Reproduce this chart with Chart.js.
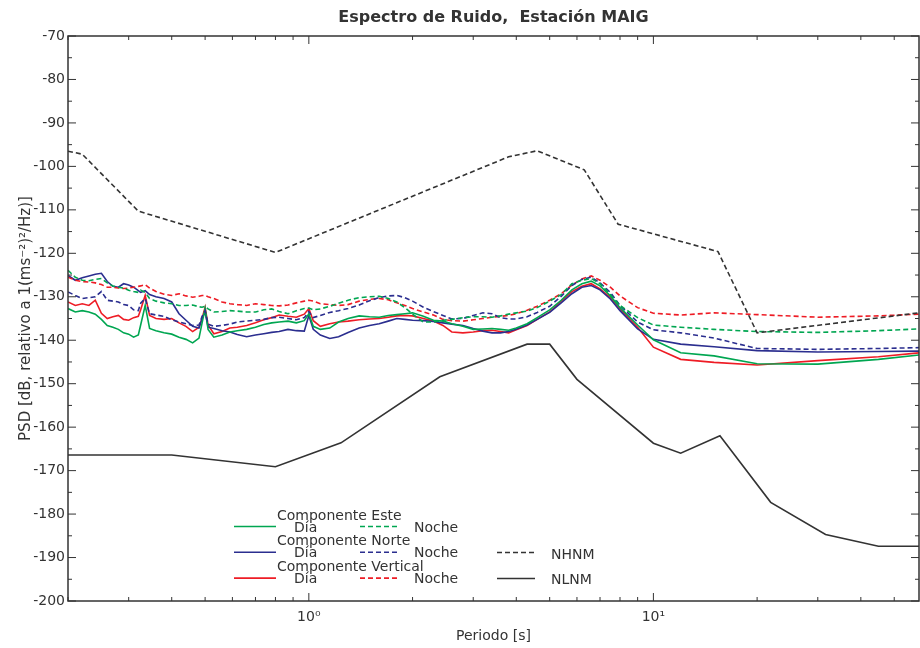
<!DOCTYPE html>
<html>
<head>
<meta charset="utf-8">
<title>Espectro de Ruido, Estación MAIG</title>
<script src="https://cdn.jsdelivr.net/npm/chart.js@4.4.1/dist/chart.umd.min.js"></script>
<style>
    html, body { margin: 0; padding: 0; background: #fff; }
    canvas { display: block; }
</style>
</head>
<body>
<canvas id="psdChart" width="920" height="648"></canvas>
<script>
// periodos [s] comunes a las 6 curvas de la estación
const periodos = [
    0.20, 0.21, 0.22, 0.23, 0.24, 0.25, 0.26, 0.27, 0.28, 0.29,
    0.30, 0.31, 0.32, 0.325, 0.335, 0.345, 0.36, 0.38, 0.40, 0.42,
    0.44, 0.46, 0.48, 0.49, 0.50, 0.51, 0.53, 0.56, 0.59, 0.62,
    0.66, 0.70, 0.74, 0.78, 0.82, 0.87, 0.92, 0.97, 1.00, 1.03,
    1.08, 1.15, 1.22, 1.30, 1.40, 1.50, 1.60, 1.70, 1.80, 1.90,
    2.0, 2.15, 2.3, 2.45, 2.6, 2.8, 3.0, 3.2, 3.4, 3.6,
    3.8, 4.0, 4.3, 4.6, 5.0, 5.4, 5.8, 6.2, 6.6, 7.0,
    7.5, 8.0, 9.0, 10, 12, 15, 20, 30, 45, 59
];

// PSD [dB] por componente
const esteDia = [
    -132.7, -133.5, -133.2, -133.5, -134.0, -135.2, -136.6, -137.0, -137.5, -138.3,
    -138.6, -139.3, -138.8, -136.5, -132.0, -137.3, -137.8, -138.3, -138.6, -139.3,
    -139.8, -140.6, -139.5, -136.0, -132.7, -137.5, -139.3, -138.8, -138.1, -137.8,
    -137.5, -137.0, -136.4, -136.0, -135.8, -135.6, -136.0, -135.5, -133.9, -136.8,
    -137.5, -137.2, -135.8, -135.0, -134.4, -134.6, -134.7, -134.3, -134.1, -133.9,
    -133.7, -134.5, -135.4, -135.6, -136.2, -136.8, -137.5, -137.4, -137.3, -137.5,
    -137.7, -137.2, -136.2, -134.8, -133.0, -130.8, -128.4, -127.0, -126.4, -127.5,
    -129.8, -132.5, -136.5, -139.9, -142.9, -143.6, -145.4, -145.5, -144.4, -143.4
];
const esteNoche = [
    -123.9, -125.5, -126.2, -126.3, -126.0, -125.8, -126.8, -127.5, -127.8, -128.0,
    -128.5, -128.8, -129.0, -128.5, -129.0, -130.4, -131.0, -131.4, -131.6, -132.0,
    -132.0, -131.9, -132.3, -132.4, -132.2, -132.8, -133.5, -133.4, -133.2, -133.3,
    -133.5, -133.5, -133.0, -132.8, -133.4, -133.9, -133.2, -132.7, -132.6, -133.0,
    -132.8, -132.2, -131.5, -130.8, -130.2, -130.0, -129.9, -130.4, -131.2, -132.5,
    -134.0, -135.8, -135.8, -135.4, -135.2, -134.8, -134.6, -134.6, -134.7, -134.4,
    -134.0, -133.7, -133.3, -132.5, -131.0, -129.5, -127.0, -126.2, -125.8, -127.0,
    -129.5, -132.0, -134.8, -136.5, -137.0, -137.5, -138.0, -138.2, -137.8, -137.4
];
const norteDia = [
    -125.1, -126.2, -125.6, -125.2, -124.8, -124.6, -126.5, -127.6, -127.8, -127.0,
    -127.3, -127.8, -128.6, -129.0, -128.6, -129.5, -130.0, -130.4, -131.2, -133.9,
    -135.4, -136.8, -137.2, -135.0, -133.5, -137.0, -137.3, -137.8, -138.1, -138.7,
    -139.2, -138.8, -138.5, -138.2, -138.0, -137.5, -137.8, -137.9, -134.3, -137.5,
    -138.8, -139.6, -139.2, -138.2, -137.2, -136.6, -136.2, -135.6, -135.0, -135.2,
    -135.4, -135.5, -135.7, -136.0, -136.3, -136.6, -137.3, -137.9, -138.3, -138.3,
    -138.0, -137.5, -136.5, -135.2, -133.6, -131.4, -129.3, -127.8, -127.4, -128.4,
    -130.5, -133.2, -137.4, -139.8, -140.9, -141.5, -142.4, -142.7, -142.6, -142.5
];
const norteNoche = [
    -128.9, -129.7, -130.4, -130.2, -130.0, -128.8, -130.8, -131.0, -131.2, -131.8,
    -132.0, -133.0, -133.2, -131.5, -130.4, -133.9, -134.2, -134.5, -135.3, -135.8,
    -136.2, -136.6, -136.5, -134.5, -133.2, -136.3, -136.8, -136.6, -136.3, -135.8,
    -135.6, -135.4, -135.2, -134.8, -134.7, -135.0, -135.3, -134.8, -133.4, -134.8,
    -134.3, -133.6, -133.2, -132.7, -131.9, -130.9, -130.2, -129.8, -129.7, -130.2,
    -131.0, -132.4, -133.4, -134.3, -135.1, -135.0, -134.3, -133.7, -133.9, -134.8,
    -135.1, -135.1, -134.6, -133.6, -132.2, -129.9, -127.4, -126.0, -125.5, -126.8,
    -129.0, -132.0, -135.8, -137.6, -138.3, -139.5, -141.9, -142.1, -141.9, -141.7
];
const vertDia = [
    -131.2, -132.0, -131.6, -132.0, -130.8, -133.8, -135.0, -134.6, -134.3, -135.2,
    -135.4, -134.8, -134.5, -133.0, -129.7, -134.3, -135.0, -135.2, -135.0, -136.0,
    -136.8, -138.0, -137.0, -135.0, -132.4, -136.5, -138.5, -138.0, -137.2, -137.0,
    -136.6, -136.0, -135.3, -134.8, -134.2, -134.5, -134.7, -134.0, -132.7, -135.5,
    -136.8, -136.2, -135.8, -135.6, -135.3, -135.1, -135.0, -134.7, -134.4, -134.3,
    -134.4, -135.0, -135.6, -136.6, -138.1, -138.3, -138.1, -137.8, -137.7, -138.0,
    -138.3, -137.6, -136.6, -135.2, -133.5, -131.0, -128.8, -127.6, -127.0, -128.2,
    -130.2, -132.8, -137.0, -141.6, -144.4, -145.1, -145.7, -144.7, -143.8, -142.9
];
const vertNoche = [
    -125.5, -126.2, -126.5, -126.6, -126.8, -127.2, -127.8, -127.8, -128.0, -128.1,
    -128.0, -127.8, -127.6, -127.5, -127.2, -128.0, -128.8, -129.4, -129.7, -129.3,
    -129.8, -130.1, -129.9, -129.7, -129.7, -130.0, -130.4, -131.2, -131.6, -131.8,
    -132.0, -131.6, -131.8, -132.0, -132.1, -131.9, -131.4, -131.0, -130.8, -131.0,
    -131.6, -131.8, -132.0, -131.8, -131.0, -130.6, -130.4, -130.7, -131.4, -132.0,
    -132.7, -133.5, -134.2, -135.2, -135.5, -135.6, -135.3, -135.0, -134.7, -134.5,
    -134.3, -133.9, -133.1, -132.2, -130.8, -129.3, -127.3, -125.9, -125.2, -126.2,
    -127.8, -129.8, -132.5, -133.8, -134.2, -133.7, -134.1, -134.7, -134.4, -134.0
];

// modelos de Peterson
const nhnmPeriodos = [0.2, 0.22, 0.32, 0.8, 3.8, 4.6, 6.3, 7.9, 15.4, 20, 59];
const nhnmValores = [-96.5, -97.2, -110.3, -119.8, -97.8, -96.4, -100.8, -113.3, -119.6, -138.3, -133.7];
const nlnmPeriodos = [0.2, 0.4, 0.8, 1.24, 2.4, 4.3, 5.0, 6.0, 10.0, 12.0, 15.6, 21.9, 31.6, 45, 59];
const nlnmValores = [-166.4, -166.4, -169.1, -163.6, -148.4, -140.9, -140.9, -149.0, -163.7, -166.0, -162.0, -177.3, -184.7, -187.4, -187.4];

// ejes
const xMin = 0.2, xMax = 59;
const yMin = -200, yMax = -70, yStep = 10;
const xTickValores = [1, 10];
const xTickTextos = ['10⁰', '10¹'];

const componentes = ['Componente Este', 'Componente Norte', 'Componente Vertical'];
const colores = ['#00a651', '#2b2e8f', '#ee1c25'];
const gris = '#333333';
const fuente = "'DejaVu Sans', Verdana, sans-serif";

const toPoints = (xs, ys) => xs.map((x, i) => ({ x: x, y: ys[i] }));

const serie = (data, color, dashed) => ({
    data: data,
    borderColor: color,
    borderWidth: 1.6,
    borderDash: dashed ? [5, 3] : [],
    pointRadius: 0,
    tension: 0,
    fill: false
});

// marco, ticks hacia adentro y leyenda
const marcoPlugin = {
    id: 'marco',
    afterDraw(chart) {
        const ctx = chart.ctx;
        const a = chart.chartArea;
        const x = chart.scales.x;
        const y = chart.scales.y;
        const line = (x1, y1, x2, y2) => {
            ctx.beginPath();
            ctx.moveTo(x1, y1);
            ctx.lineTo(x2, y2);
            ctx.stroke();
        };
        ctx.save();
        ctx.strokeStyle = gris;
        ctx.setLineDash([]);
        ctx.lineWidth = 1.5;
        ctx.strokeRect(a.left, a.top, a.right - a.left, a.bottom - a.top);

        ctx.lineWidth = 1;
        for (let d = -1; d <= 1; d++) {
            for (let m = 1; m <= 9; m++) {
                const v = m * Math.pow(10, d);
                if (v < xMin - 1e-9 || v > xMax) continue;
                const px = x.getPixelForValue(v);
                const len = m === 1 ? 8 : 4;
                line(px, a.bottom, px, a.bottom - len);
                line(px, a.top, px, a.top + len);
            }
        }
        for (let v = yMin; v <= yMax; v += 5) {
            const py = y.getPixelForValue(v);
            const len = v % 10 === 0 ? 8 : 4;
            line(a.left, py, a.left + len, py);
            line(a.right, py, a.right - len, py);
        }

        // leyenda
        ctx.font = '14px ' + fuente;
        ctx.fillStyle = gris;
        ctx.textBaseline = 'middle';
        ctx.lineWidth = 1.6;
        componentes.forEach((nombre, i) => {
            const dy = i * 25.8;
            ctx.fillText(nombre, 277, 516 + dy);
            ctx.fillText('Día', 294, 528 + dy);
            ctx.fillText('Noche', 414, 528 + dy);
            ctx.strokeStyle = colores[i];
            ctx.setLineDash([]);
            line(234, 526.5 + dy, 276, 526.5 + dy);
            ctx.setLineDash([5, 3]);
            line(360, 526.5 + dy, 398, 526.5 + dy);
        });
        ctx.strokeStyle = gris;
        ctx.setLineDash([5, 3]);
        line(497, 552.5, 535, 552.5);
        ctx.setLineDash([]);
        line(497, 578.5, 535, 578.5);
        ctx.fillText('NHNM', 551, 555);
        ctx.fillText('NLNM', 551, 580);
        ctx.restore();
    }
};

new Chart(document.getElementById('psdChart'), {
    type: 'line',
    data: {
        datasets: [
            serie(toPoints(nhnmPeriodos, nhnmValores), gris, true),
            serie(toPoints(nlnmPeriodos, nlnmValores), gris, false),
            serie(toPoints(periodos, esteNoche), colores[0], true),
            serie(toPoints(periodos, norteNoche), colores[1], true),
            serie(toPoints(periodos, vertNoche), colores[2], true),
            serie(toPoints(periodos, esteDia), colores[0], false),
            serie(toPoints(periodos, norteDia), colores[1], false),
            serie(toPoints(periodos, vertDia), colores[2], false)
        ]
    },
    options: {
        responsive: false,
        animation: false,
        devicePixelRatio: 1,
        layout: { padding: { left: 0, right: 1, top: 0, bottom: 0 } },
        plugins: {
            legend: { display: false },
            tooltip: { enabled: false },
            title: {
                display: true,
                fullSize: false,
                text: 'Espectro de Ruido,  Estación MAIG',
                color: gris,
                font: { family: fuente, size: 16, weight: 'bold', lineHeight: 1.2 },
                padding: { top: 8, bottom: 8.8 }
            }
        },
        scales: {
            x: {
                type: 'logarithmic',
                min: xMin,
                max: xMax,
                grid: { display: false, drawTicks: false },
                border: { display: false },
                afterBuildTicks: (s) => { s.ticks = xTickValores.map(v => ({ value: v })); },
                afterFit: (s) => { s.height = 47; },
                ticks: {
                    color: gris,
                    font: { family: fuente, size: 14 },
                    padding: 8,
                    maxRotation: 0,
                    autoSkip: false,
                    callback: (v) => {
                        const i = xTickValores.indexOf(v);
                        return i >= 0 ? xTickTextos[i] : '';
                    }
                },
                title: {
                    display: true,
                    text: 'Periodo [s]',
                    color: gris,
                    font: { family: fuente, size: 14 },
                    padding: { top: 0, bottom: 3 }
                }
            },
            y: {
                min: yMin,
                max: yMax,
                grid: { display: false, drawTicks: false },
                border: { display: false },
                afterFit: (s) => { s.width = 68; },
                ticks: {
                    stepSize: yStep,
                    color: gris,
                    font: { family: fuente, size: 14 },
                    padding: 3
                },
                title: {
                    display: true,
                    text: 'PSD [dB, relativo a 1(ms⁻²)²/Hz)]',
                    color: gris,
                    font: { family: fuente, size: 15 },
                    padding: { top: 17, bottom: 0 }
                }
            }
        }
    },
    plugins: [marcoPlugin]
});
</script>
</body>
</html>
